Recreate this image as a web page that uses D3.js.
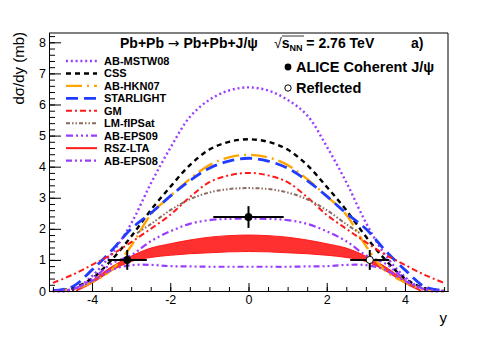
<!DOCTYPE html>
<html>
<head>
<meta charset="utf-8">
<script src="https://cdn.jsdelivr.net/npm/d3@7"></script>
<style>
  body { margin: 0; background: #fff; }
  svg { display: block; font-family: "Liberation Sans", Arial, sans-serif; }
</style>
</head>
<body>
<svg id="chart" width="498" height="339"></svg>
<script>
//
// Data
//

// rapidity grid for the model curves
var rap = [-5, -4.5, -4, -3.5, -3, -2.5, -2, -1.5, -1, -0.5, 0, 0.5, 1, 1.5, 2, 2.5, 3, 3.5, 4, 4.5, 5]

var abMstw08 = [0.0, 0.03, 0.48, 1.2, 2.17, 3.45, 4.6, 5.6, 6.15, 6.45, 6.55, 6.45, 6.15, 5.65, 4.65, 3.5, 2.2, 1.15, 0.45, 0.03, 0.0]
var css = [0.0, 0.09, 0.4, 1.0, 1.75, 2.6, 3.35, 4.05, 4.55, 4.8, 4.88, 4.8, 4.55, 4.05, 3.35, 2.6, 1.75, 1.0, 0.4, 0.09, 0.0]
var abHkn07 = [0.0, 0.05, 0.28, 0.68, 1.45, 2.45, 3.05, 3.6, 4.05, 4.3, 4.38, 4.3, 4.05, 3.6, 3.05, 2.45, 1.45, 0.65, 0.28, 0.05, 0.0]
var starlight = [0.01, 0.14, 0.68, 1.3, 2.0, 2.5, 3.05, 3.55, 3.95, 4.18, 4.27, 4.18, 3.95, 3.55, 3.05, 2.5, 2.0, 1.3, 0.68, 0.14, 0.01]
var gm = [0.26, 0.52, 0.84, 1.17, 1.57, 2.0, 2.45, 3.02, 3.5, 3.72, 3.8, 3.72, 3.5, 3.02, 2.45, 2.0, 1.57, 1.17, 0.84, 0.52, 0.26]
var abEps09 = [0.0, 0.06, 0.38, 0.88, 1.15, 1.6, 1.92, 2.16, 2.28, 2.32, 2.33, 2.32, 2.28, 2.16, 1.92, 1.6, 1.15, 0.88, 0.38, 0.06, 0.0]
var abEps08 = [0.0, 0.06, 0.32, 0.68, 0.83, 0.84, 0.8, 0.79, 0.78, 0.78, 0.78, 0.78, 0.78, 0.79, 0.8, 0.84, 0.83, 0.68, 0.32, 0.06, 0.0]

// LM-fIPSat only covers the central region
var rapLm = [-2.85, -2.5, -2, -1.5, -1, -0.5, 0, 0.5, 1, 1.5, 2, 2.5, 2.85]
var lmFipsat = [1.86, 2.15, 2.6, 2.95, 3.17, 3.28, 3.31, 3.28, 3.17, 2.95, 2.6, 2.15, 1.86]

// RSZ-LTA band
var rapBand = [-4.4, -4, -3.5, -3, -2.5, -2, -1.5, -1, -0.5, 0, 0.5, 1, 1.5, 2, 2.5, 3, 3.5, 4, 4.4]
var rszLow = [0, 0.25, 0.65, 0.95, 1.08, 1.15, 1.2, 1.23, 1.26, 1.27, 1.26, 1.23, 1.2, 1.15, 1.08, 0.95, 0.65, 0.25, 0]
var rszHigh = [0.03, 0.33, 0.78, 1.12, 1.38, 1.52, 1.64, 1.73, 1.78, 1.8, 1.78, 1.73, 1.64, 1.52, 1.38, 1.12, 0.78, 0.33, 0.03]

// ALICE measurement and reflected point
var aliceY = [-3.1, 0]
var aliceSigma = [1.0, 2.38]
var aliceErrY = [0.32, 0.35]
var aliceErrX = [0.5, 0.9]
var reflY = [3.1]
var reflSigma = [1.0]
var reflErrY = [0.32]
var reflErrX = [0.5]

var xMajor = [-4, -2, 0, 2, 4]
var yMajor = [0, 1, 2, 3, 4, 5, 6, 7, 8]

//
// Styles
//

var models = [
  { name: 'AB-MSTW08', x: rap, v: abMstw08, color: '#9a3cff', dash: '2 2.8', width: 2.4 },
  { name: 'CSS', x: rap, v: css, color: '#000', dash: '5 4', width: 2.4 },
  { name: 'AB-HKN07', x: rap, v: abHkn07, color: '#ffa500', dash: '16 5 2 5', width: 2.4 },
  { name: 'STARLIGHT', x: rap, v: starlight, color: '#1f3cff', dash: '12 6', width: 2.8 },
  { name: 'GM', x: rap, v: gm, color: '#ff1a1a', dash: '6 3 2 3', width: 2 },
  { name: 'LM-fIPSat', x: rapLm, v: lmFipsat, color: '#8a6a5c', dash: '4 2 1.5 2 1.5 2', width: 2 },
  { name: 'AB-EPS09', x: rap, v: abEps09, color: '#9a3cff', dash: '7 3 2 3 2 3 2 3', width: 2.2 },
  { name: 'RSZ-LTA', band: true, color: '#ff1a1a', dash: null, width: 2 },
  { name: 'AB-EPS08', x: rap, v: abEps08, color: '#9a3cff', dash: '6 3 2 3 2 3', width: 2.2 }
]

//
// Scales and axes
//

var svg = d3.select('#chart')
var padL = 49, padR = 448, padT = 33, padB = 291

var x = d3.scaleLinear().domain([-5.1, 5.1]).range([padL, padR])
var y = d3.scaleLinear().domain([0, 8.3]).range([padB, padT])

var plot = svg.append('g')

// RSZ-LTA band first, curves above it
var bandData = rapBand.map(function(r, i) { return { r: r, lo: rszLow[i], hi: rszHigh[i] } })
plot.append('path')
  .datum(bandData)
  .attr('fill', '#ff1a1a')
  .attr('fill-opacity', 0.9)
  .attr('stroke', '#ff1a1a')
  .attr('stroke-width', 1)
  .attr('d', d3.area()
    .x(function(d) { return x(d.r) })
    .y0(function(d) { return y(d.lo) })
    .y1(function(d) { return y(d.hi) })
    .curve(d3.curveCatmullRom))

var line = d3.line()
  .x(function(d) { return x(d[0]) })
  .y(function(d) { return y(d[1]) })
  .curve(d3.curveCatmullRom)

models.forEach(function(m) {
  if (m.band) return
  plot.append('path')
    .datum(m.x.map(function(r, i) { return [r, m.v[i]] }))
    .attr('fill', 'none')
    .attr('stroke', m.color)
    .attr('stroke-width', m.width)
    .attr('stroke-dasharray', m.dash)
    .attr('d', line)
})

// axes with inward ticks
function minorTicks(lo, hi, step) {
  var out = []
  for (var v = lo; v <= hi + 1e-9; v += step) out.push(+v.toFixed(2))
  return out
}

function plain(d) { return String(d) }

svg.append('g')
  .attr('transform', 'translate(0,' + padB + ')')
  .call(d3.axisBottom(x).tickValues(minorTicks(-5, 5, 0.5)).tickSize(-4).tickSizeOuter(0).tickFormat(''))
svg.append('g')
  .attr('transform', 'translate(0,' + padB + ')')
  .call(d3.axisBottom(x).tickValues(xMajor).tickSize(-8).tickSizeOuter(0).tickPadding(4).tickFormat(plain))

svg.append('g')
  .attr('transform', 'translate(' + padL + ',0)')
  .call(d3.axisLeft(y).tickValues(minorTicks(0, 8.2, 0.2)).tickSize(-6).tickSizeOuter(0).tickFormat(''))
svg.append('g')
  .attr('transform', 'translate(' + padL + ',0)')
  .call(d3.axisLeft(y).tickValues(yMajor).tickSize(-12).tickSizeOuter(0).tickPadding(3).tickFormat(plain))

svg.selectAll('.domain').attr('stroke', '#000')
svg.selectAll('.tick line').attr('stroke', '#000')
svg.selectAll('.tick text')
  .attr('font-family', '"Liberation Sans", Arial, sans-serif')
  .attr('font-size', 12.5)
  .attr('fill', '#000')

// frame top and right
svg.append('path')
  .attr('d', 'M' + padL + ',' + padT + 'H' + padR + 'V' + padB)
  .attr('fill', 'none')
  .attr('stroke', '#000')
  .attr('stroke-width', 1)

// axis titles
svg.append('text')
  .attr('transform', 'translate(24,' + (padT - 1) + ') rotate(-90)')
  .attr('text-anchor', 'end')
  .attr('font-size', 15)
  .text('dσ/dy (mb)')

svg.append('text')
  .attr('x', padR - 1)
  .attr('y', 323)
  .attr('text-anchor', 'end')
  .attr('font-size', 15)
  .text('y')

//
// Data points
//

var pts = svg.append('g')

function drawPoints(xs, vs, ex, ey, open) {
  xs.forEach(function(r, i) {
    pts.append('line')
      .attr('x1', x(r - ex[i])).attr('x2', x(r + ex[i]))
      .attr('y1', y(vs[i])).attr('y2', y(vs[i]))
      .attr('stroke', '#000').attr('stroke-width', 2)
    pts.append('line')
      .attr('x1', x(r)).attr('x2', x(r))
      .attr('y1', y(vs[i] - ey[i])).attr('y2', y(vs[i] + ey[i]))
      .attr('stroke', '#000').attr('stroke-width', 2)
    pts.append('circle')
      .attr('cx', x(r)).attr('cy', y(vs[i]))
      .attr('r', 3.6)
      .attr('fill', open ? '#fff' : '#000')
      .attr('stroke', '#000')
      .attr('stroke-width', 1)
  })
}

drawPoints(aliceY, aliceSigma, aliceErrX, aliceErrY, false)
drawPoints(reflY, reflSigma, reflErrX, reflErrY, true)

//
// Labels and legend
//

var title = svg.append('text')
  .attr('x', 120)
  .attr('y', 48)
  .attr('font-size', 14)
  .attr('font-weight', 'bold')
title.append('tspan').text('Pb+Pb ')
title.append('tspan').attr('font-weight', 'normal').attr('font-family', '"DejaVu Sans", sans-serif').text('\u2192')
title.append('tspan').text(' Pb+Pb+J/\u03c8')

var energy = svg.append('text')
  .attr('x', 274)
  .attr('y', 48)
  .attr('font-size', 14)
  .attr('font-weight', 'bold')
energy.append('tspan').attr('font-weight', 'normal').text('\u221a')
energy.append('tspan').text('s')
energy.append('tspan').attr('font-size', 9).attr('dy', 3).text('NN')
energy.append('tspan').attr('dy', -3).text(' = 2.76 TeV')

// overline of the square root
svg.append('line')
  .attr('x1', 282).attr('x2', 304)
  .attr('y1', 36).attr('y2', 36)
  .attr('stroke', '#000').attr('stroke-width', 0.8)

svg.append('text')
  .attr('x', 411)
  .attr('y', 48)
  .attr('font-size', 14)
  .attr('font-weight', 'bold')
  .text('a)')

var legend = svg.append('g')
models.forEach(function(m, i) {
  var ly = 61 + i * 12.45
  legend.append('line')
    .attr('x1', 66).attr('x2', 97)
    .attr('y1', ly).attr('y2', ly)
    .attr('stroke', m.color)
    .attr('stroke-width', m.band ? 2 : m.width)
    .attr('stroke-dasharray', m.dash)
  legend.append('text')
    .attr('x', 104)
    .attr('y', ly + 4)
    .attr('font-size', 11)
    .attr('font-weight', 'bold')
    .text(m.name)
})

legend.append('circle')
  .attr('cx', 288).attr('cy', 67).attr('r', 3.4)
  .attr('fill', '#000')
legend.append('text')
  .attr('x', 296).attr('y', 72)
  .attr('font-size', 14.5).attr('font-weight', 'bold')
  .text('ALICE Coherent J/\u03c8')
legend.append('circle')
  .attr('cx', 288).attr('cy', 88).attr('r', 3.2)
  .attr('fill', '#fff').attr('stroke', '#000').attr('stroke-width', 1)
legend.append('text')
  .attr('x', 296).attr('y', 93)
  .attr('font-size', 14.5).attr('font-weight', 'bold')
  .text('Reflected')
</script>
</body>
</html>
